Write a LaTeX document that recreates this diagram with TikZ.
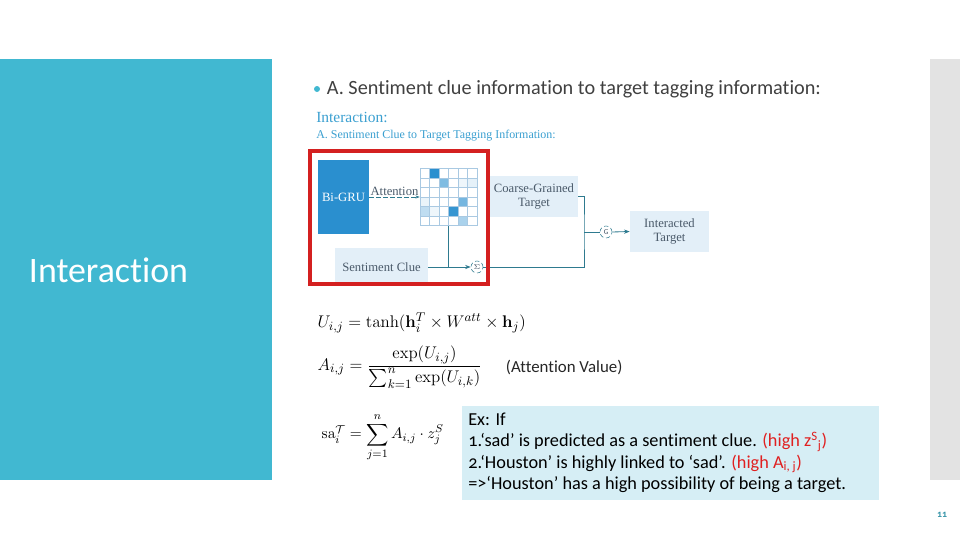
\documentclass[tikz,border=0pt]{standalone}
\usepackage{amsmath, amssymb}
\usepackage[no-math]{fontspec}
\setmainfont{Carlito}[Numbers=OldStyle, Ligatures=NoCommon]
\newfontfamily\figfont{Liberation Serif}
\usetikzlibrary{arrows.meta}
\definecolor{slideteal}{HTML}{41B8D1}
\definecolor{stripgray}{HTML}{E3E3E3}
\definecolor{grublue}{HTML}{2A8FCF}
\definecolor{boxblue}{HTML}{E3EFF8}
\definecolor{gridblue}{HTML}{A9C9E2}
\definecolor{wireteal}{HTML}{2E7A8F}
\definecolor{figtext}{HTML}{4A5A6A}
\definecolor{titleblue}{HTML}{3A9FD0}
\definecolor{exbg}{HTML}{D6EEF5}
\definecolor{hired}{HTML}{E02020}
\definecolor{framered}{HTML}{D42020}
\tikzset{
  figbox/.style={fill=boxblue, text=figtext, align=center, font=\figfont\fontsize{9}{10}\selectfont, inner sep=1pt},
  opcircle/.style={circle, draw=wireteal, densely dashed, fill=white, minimum size=0.3cm, inner sep=0pt, text=figtext, font=\sffamily\fontsize{5}{5}\selectfont},
  wire/.style={draw=wireteal, line width=0.6pt},
}
\begin{document}
\begin{tikzpicture}[x=0.025cm, y=-0.025cm]
	\useasboundingbox (0,0) rectangle (960,540);
	% Slide background:
	\fill[slideteal] (0,59) rectangle (272,480);
	\fill[stripgray] (930,59) rectangle (960,480);
	\node[anchor=west, text=white, font=\fontsize{25.5}{28}\selectfont] (secttitle) at (24,270) {Interaction};
	\fill[slideteal] (317,89) circle (3);
	\node[anchor=west, text=black!75, font=\fontsize{14.4}{16}\selectfont] (heading) at (322,89) {A. Sentiment clue information to target tagging information:};
	% Figure:
	\node[anchor=west, text=titleblue, font=\figfont\fontsize{11}{12}\selectfont, inner sep=0pt] (figtitle) at (316,117) {Interaction:};
	\node[anchor=west, text=titleblue, font=\figfont\fontsize{8.5}{10}\selectfont, inner sep=0pt] (figsub) at (316,136) {A. Sentiment Clue to Target Tagging Information:};
	\node[fill=grublue, text=white, font=\figfont\fontsize{9}{10}\selectfont, minimum width=1.275cm, minimum height=1.85cm, inner sep=0pt] (bigru) at (343.5,197) {Bi-GRU};
	\node[draw=gridblue, minimum size=1.425cm, inner sep=0pt] (attmat) at (448.5,197) {};
	\foreach \r/\c/\s in {1/2/100, 2/3/60, 2/5/8, 2/6/12, 4/1/10, 4/5/65, 5/1/30, 5/2/8, 5/4/95, 6/5/40}
		\fill[grublue!\s!white] (420+\c*9.5-9.5,168.5+\r*9.5-9.5) rectangle ++(9.5,9.5);
	\foreach \k in {1,...,5} {
		\draw[gridblue, line width=0.5pt] (420+\k*9.5,168.5) -- ++(0,57);
		\draw[gridblue, line width=0.5pt] (420,168.5+\k*9.5) -- ++(57,0);
	}
	\node[draw=gridblue, minimum size=1.425cm, inner sep=0pt] at (attmat) {};
	\node[figbox, minimum width=2.2cm, minimum height=1.025cm] (coarse) at (534,196.5) {Coarse-Grained\\Target};
	\node[figbox, minimum width=2.325cm, minimum height=0.95cm] (clue) at (381.5,267) {Sentiment Clue};
	\node[opcircle] (sigma) at (477,267) {$\Sigma$};
	\node[opcircle] (gate) at (606,232) {G};
	\node[figbox, minimum width=1.975cm, minimum height=1.025cm] (target) at (669.5,231.5) {Interacted\\Target};
	\coordinate (jn) at (584,232);
	\draw[wire, densely dashed, -{Stealth[length=3pt]}] (bigru) -- node[above, text=figtext, font=\figfont\fontsize{9}{10}\selectfont, inner sep=1pt] {Attention} (attmat);
	\draw[wire, -{Stealth[length=4pt]}] (clue) -- (sigma);
	\draw[wire] (attmat.south) -- (attmat.south |- sigma);
	\draw[wire] (coarse.east) -| (jn) |- (sigma.east);
	\draw[wire] (jn) -- (gate.west);
	\draw[wire, -{Stealth[length=4pt]}] (gate.east) -- (target.west);
	\draw[framered, line width=2.2pt] (310,151) rectangle (488,284);
	% Equations:
	\node[anchor=west, inner sep=1pt, font=\fontsize{12.8}{15}\selectfont] (equ) at (316,323) {$U_{i,j}=\tanh(\mathbf{h}_i^T\times W^{att}\times\mathbf{h}_j)$};
	\node[anchor=west, inner sep=1pt, font=\fontsize{12.8}{15}\selectfont] (eqa) at (316,367) {$A_{i,j}=\dfrac{\exp(U_{i,j})}{\sum_{k=1}^{n}\exp(U_{i,k})}$};
	\node[anchor=west, text=black!85, font=\fontsize{12}{13}\selectfont] (attval) at (501,367) {(Attention Value)};
	\node[anchor=west, inner sep=1pt, font=\fontsize{11}{13}\selectfont] (eqsa) at (320,437) {$\mathrm{sa}_i^{\mathcal{T}}=\displaystyle\sum_{j=1}^{n}A_{i,j}\cdot z_j^S$};
	\fill[exbg] (462,406) rectangle (879,500);
	\node[anchor=north west, align=left, inner sep=0pt, font=\fontsize{13}{15}\selectfont] (extext) at (468,413) {Ex: If\\
1.‘sad’ is predicted as a sentiment clue. \textcolor{hired}{(high z\textsuperscript{S}\textsubscript{j})}\\
2.‘Houston’ is highly linked to ‘sad’. \textcolor{hired}{(high A\textsubscript{i, j})}\\
=>‘Houston’ has a high possibility of being a target.};
	\node[text=slideteal!80!black, font=\bfseries\fontsize{7}{8}\selectfont] (pagenum) at (942,515) {11};
\end{tikzpicture}
\end{document}
